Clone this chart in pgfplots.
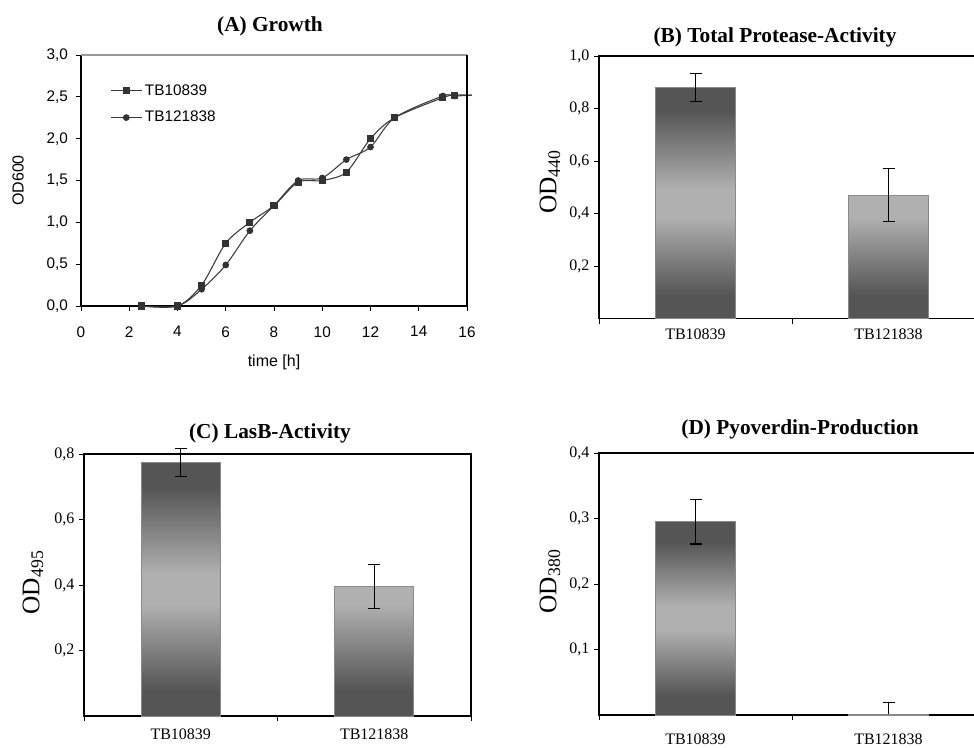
\documentclass[border=0pt]{standalone}
\usepackage{fontspec}
\setmainfont{Liberation Serif}
\newfontfamily\arial{Liberation Sans}
\usepackage{pgfplots}
\pgfplotsset{compat=1.18}

\definecolor{bardark}{HTML}{555555}
\definecolor{barlight}{HTML}{B0B0B0}
\definecolor{baredge}{HTML}{8A8A8A}
\definecolor{linegray}{HTML}{3A3A3A}
\definecolor{markgray}{HTML}{333333}
\pgfdeclareverticalshading{barshade}{100bp}{color(0bp)=(bardark); color(25bp)=(bardark); color(30bp)=(bardark); color(47bp)=(barlight); color(53bp)=(barlight); color(70bp)=(bardark); color(75bp)=(bardark); color(100bp)=(bardark)}

\pgfplotsset{
  barpanel/.style={
    scale only axis, anchor=south west,
    xmin=-0.5, xmax=1.5, ymin=0, clip=false,
    xtick={-0.5,0.5,1.5}, xticklabels={,,},
    extra x ticks={0,1},
    extra x tick style={major tick length=0pt},
    tick align=outside, major tick length=3.75pt,
    xtick pos=left, ytick pos=left,
    tick style={black, line width=0.6pt},
    axis line style={black, line width=0.8pt},
    every tick label/.append style={font=\fontsize{12}{12}\selectfont},
    /pgf/number format/assume math mode=true,
    yticklabel style={/pgf/number format/.cd, fixed, fixed zerofill, precision=1, use comma},
    label style={font=\fontsize{19}{20}\selectfont},
  },
  barstyle/.style={ybar, bar width=0.41, bar shift=0pt, draw=baredge, line width=0.75pt, shading=barshade},
  errstyle/.style={draw=none, mark=none,
    error bars/.cd, y dir=#1, y explicit,
    error bar style={draw=black, line width=0.9pt},
    error mark options={draw=black, line width=0.9pt, mark size=4.5pt, rotate=90}},
  errstyle/.default=both,
}

\begin{document}
\begin{tikzpicture}
\useasboundingbox (0,0) rectangle (730.5pt,560.25pt);

% (A) Growth
\begin{axis}[
  at={(60.75pt,330.75pt)}, anchor=south west,
  scale only axis, width=289.5pt, height=188.25pt,
  xmin=0, xmax=16, ymin=0, ymax=3,
  xtick={0,2,4,6,8,10,12,14,16}, ytick={0,0.5,1,1.5,2,2.5,3},
  axis x line*=bottom, axis y line*=left,
  tick align=outside, major tick length=3.75pt,
  tick style={black, line width=0.6pt},
  axis line style={black, line width=0.8pt},
  every tick label/.append style={font=\arial\fontsize{11.5}{12}\selectfont},
  /pgf/number format/assume math mode=true,
  xticklabel style={yshift=-8pt},
  yticklabel style={xshift=-2.5pt, /pgf/number format/.cd, fixed, fixed zerofill, precision=1, use comma},
  xlabel={time [h]}, ylabel={OD600},
  label style={font=\arial\fontsize{12}{14}\selectfont},
  xlabel style={at={([yshift=-42pt]axis description cs:0.5,0)}, anchor=center},
  ylabel style={at={([xshift=-47.25pt]axis description cs:0,0.5)}, anchor=center},
  clip=false,
  legend style={draw=none, fill=none, at={(axis description cs:0.075,0.894)}, anchor=north west,
    font=\arial\fontsize{11.5}{12}\selectfont, row sep=6.5pt, inner sep=0pt},
  legend cell align=left,
  legend image code/.code={\draw[#1, mark indices={2}] plot coordinates {(0pt,0pt) (11.625pt,0pt) (23.25pt,0pt)};},
]
\addplot[smooth, tension=0.5, color=linegray, line width=0.8pt, mark=square*, mark size=2.25pt,
  mark options={fill=markgray, draw=markgray}, mark indices={1,2,3,4,5,6,7,8,9,10,11,12,13}]
  coordinates {(2.5,0) (4,0) (5,0.25) (6,0.75) (7,1.0) (8,1.2) (9,1.48) (10,1.5) (11,1.6) (12,2.0) (13,2.25) (15,2.49) (15.5,2.52) (16.2,2.52)};
\addlegendentry{TB10839}
\addplot[smooth, tension=0.5, color=linegray, line width=0.8pt, mark=*, mark size=2.1pt,
  mark options={fill=markgray, draw=markgray}, mark indices={1,2,3,4,5,6,7,8,9,10,11,12,13}]
  coordinates {(2.5,0) (4,0) (5,0.2) (6,0.49) (7,0.9) (8,1.2) (9,1.5) (10,1.53) (11,1.75) (12,1.9) (13,2.25) (15,2.51) (15.5,2.51) (16.2,2.52)};
\addlegendentry{TB121838}
\draw[color=gray!80, line width=0.8pt] (rel axis cs:0,1) -- (rel axis cs:1,1);
\draw[black, line width=0.8pt] (rel axis cs:1,1) -- (rel axis cs:1,0);
\end{axis}

% (B) Total Protease-Activity
\begin{axis}[barpanel,
  at={(449.25pt,321.375pt)}, width=289.5pt, height=196.875pt,
  ymax=1, ytick={0.2,0.4,0.6,0.8,1.0},
  extra x tick labels={TB10839,TB121838},
  extra x tick style={xticklabel style={yshift=-3.9pt}},
  ylabel={OD\textsubscript{440}},
  ylabel style={at={([xshift=-36.75pt]axis description cs:0,0.52)}, anchor=center},
]
\addplot[barstyle] coordinates {(0,0.88) (1,0.47)};
\addplot[errstyle] coordinates {(0,0.88) +- (0,0.053) (1,0.47) +- (0,0.1)};
\end{axis}

% (C) LasB-Activity
\begin{axis}[barpanel,
  at={(63pt,23.25pt)}, width=290.25pt, height=196.5pt,
  ymax=0.8, ytick={0.2,0.4,0.6,0.8},
  extra x tick labels={TB10839,\raisebox{-3.75pt}{TB121838}},
  extra x tick style={xticklabel style={yshift=-6.3pt}},
  ylabel={OD\textsubscript{495}},
  ylabel style={at={([xshift=-38.25pt]axis description cs:0,0.51)}, anchor=center},
]
\addplot[barstyle] coordinates {(0,0.775) (1,0.396)};
\addplot[errstyle] coordinates {(0,0.775) +- (0,0.043) (1,0.396) +- (0,0.067)};
\end{axis}

% (D) Pyoverdin-Production
\begin{axis}[barpanel,
  at={(449.25pt,24pt)}, width=289.5pt, height=196.5pt,
  ymax=0.4, ytick={0.1,0.2,0.3,0.4},
  extra x tick labels={TB10839,TB121838},
  extra x tick style={xticklabel style={yshift=-10.5pt}},
  ylabel={OD\textsubscript{380}},
  ylabel style={at={([xshift=-36.75pt]axis description cs:0,0.51)}, anchor=center},
]
\addplot[barstyle] coordinates {(0,0.295) (1,0.0015)};
\addplot[errstyle] coordinates {(0,0.295) +- (0,0.034)};
\addplot[errstyle=plus] coordinates {(1,0.0015) +- (0,0.018)};
\end{axis}

\node[font=\bfseries\fontsize{16}{18}\selectfont] at (202.5pt,540.75pt) {(A) Growth};
\node[font=\bfseries\fontsize{16}{18}\selectfont] at (581.25pt,532.5pt) {(B) Total Protease-Activity};
\node[font=\bfseries\fontsize{16}{18}\selectfont] at (202.5pt,235.5pt) {(C) LasB-Activity};
\node[font=\bfseries\fontsize{16}{18}\selectfont] at (600pt,238.5pt) {(D) Pyoverdin-Production};
\end{tikzpicture}
\end{document}
